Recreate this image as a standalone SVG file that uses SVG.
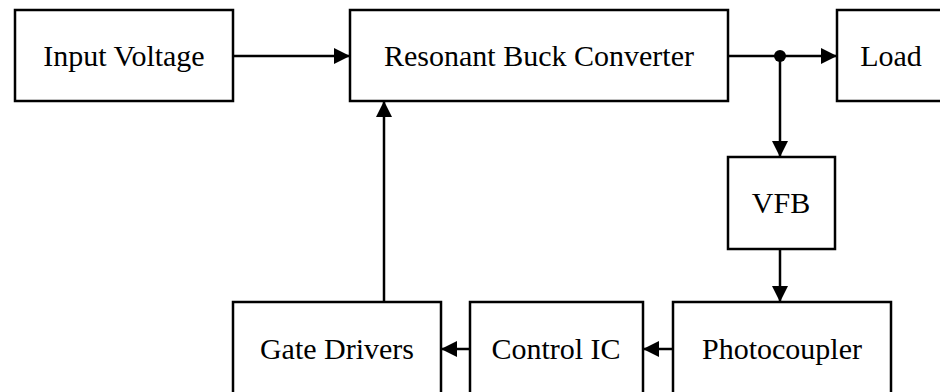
<svg xmlns="http://www.w3.org/2000/svg" width="940" height="392" viewBox="0 0 940 392">
<style>
.box{fill:#fff;stroke:#000;stroke-width:2.5}
.lbl{font-family:"Liberation Serif","Times New Roman",serif;font-size:30px;fill:#000;text-anchor:middle}
.wire{fill:none;stroke:#000;stroke-width:2.5}
</style>
<defs>
<marker id="ah" markerUnits="userSpaceOnUse" markerWidth="17" markerHeight="16" refX="16" refY="8" orient="auto">
<path d="M0,0 L16,8 L0,16 Z" fill="#000"/>
</marker>
</defs>
<rect width="940" height="392" fill="#fff"/>
<g id="input-voltage"><rect class="box" x="15" y="10" width="218" height="91"/><text class="lbl" x="124" y="66">Input Voltage</text></g>
<g id="resonant-buck"><rect class="box" x="350" y="10" width="378" height="91"/><text class="lbl" x="539" y="66">Resonant Buck Converter</text></g>
<g id="load"><rect class="box" x="837" y="10" width="120" height="91"/><text class="lbl" x="891" y="66">Load</text></g>
<g id="vfb"><rect class="box" x="728" y="157" width="107" height="92"/><text class="lbl" x="781" y="213">VFB</text></g>
<g id="photocoupler"><rect class="box" x="673" y="302" width="218" height="110"/><text class="lbl" x="782" y="359">Photocoupler</text></g>
<g id="control-ic"><rect class="box" x="470" y="302" width="173" height="110"/><text class="lbl" x="556" y="359">Control IC</text></g>
<g id="gate-drivers"><rect class="box" x="233" y="302" width="208" height="110"/><text class="lbl" x="337" y="359">Gate Drivers</text></g>
<g id="connectors">
<line class="wire" x1="233" y1="56" x2="350" y2="56" marker-end="url(#ah)"/>
<line class="wire" x1="728" y1="56" x2="837" y2="56" marker-end="url(#ah)"/>
<circle cx="780" cy="56" r="6" fill="#000"/>
<line class="wire" x1="780" y1="56" x2="780" y2="157" marker-end="url(#ah)"/>
<line class="wire" x1="780" y1="249" x2="780" y2="302" marker-end="url(#ah)"/>
<line class="wire" x1="673" y1="349" x2="643" y2="349" marker-end="url(#ah)"/>
<line class="wire" x1="470" y1="349" x2="441" y2="349" marker-end="url(#ah)"/>
<line class="wire" x1="384" y1="302" x2="384" y2="101" marker-end="url(#ah)"/>
</g>
</svg>
